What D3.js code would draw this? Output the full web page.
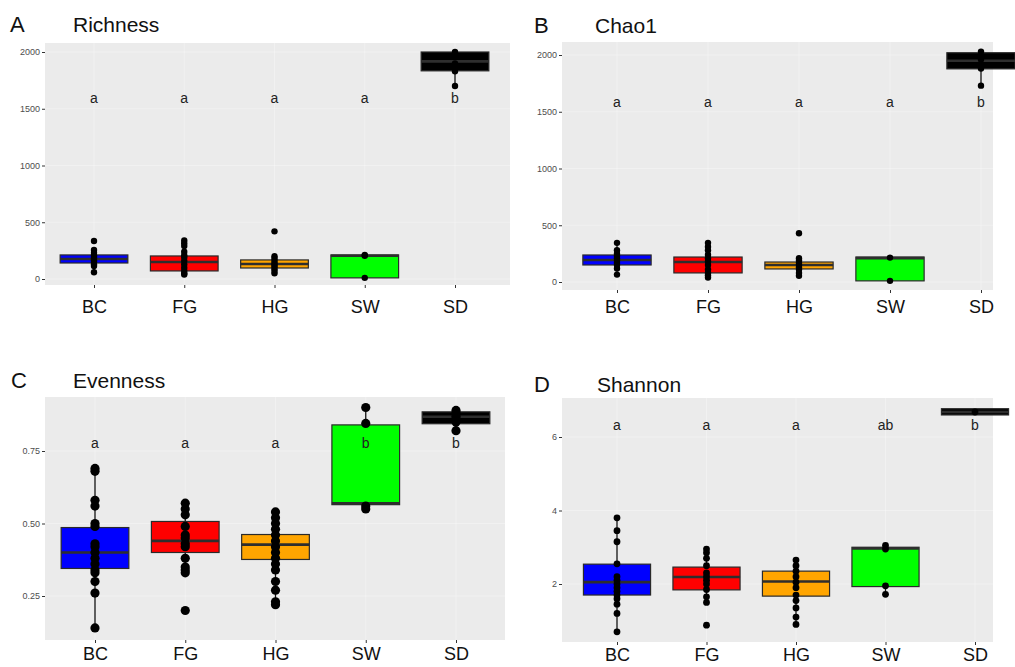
<!DOCTYPE html>
<html>
<head>
<meta charset="utf-8">
<script src="https://cdn.jsdelivr.net/npm/d3@7"></script>
<style>
  body { margin: 0; background: #fff; }
  svg { display: block; font-family: "Liberation Sans", Arial, sans-serif; }
</style>
</head>
<body>
<svg id="chart" width="1015" height="667"></svg>
<script>
// groups and colours
var cats = ["BC", "FG", "HG", "SW", "SD"]
var fills = ["#0000ff", "#ff0000", "#ffa500", "#00ff00", "#000000"]

// box stats per group: [lower whisker, q1, median, q3, upper whisker]
var richStats = [[60, 141, 176, 212, 260], [40, 71, 150, 203, 340], [50, 97, 132, 168, 200], [10, 10, 205, 212, 212], [1700, 1834, 1917, 2000, 2000]]
var richPoints = [
  [335, 255, 230, 210, 195, 180, 165, 150, 130, 115, 60],
  [340, 315, 290, 240, 210, 190, 160, 130, 100, 70, 50, 40],
  [420, 200, 180, 160, 140, 125, 110, 90, 70, 50],
  [212, 205, 10],
  [2000, 1980, 1900, 1830, 1700]
]
var richLetters = ["a", "a", "a", "a", "b"]

var chaoStats = [[65, 150, 194, 238, 345], [40, 80, 176, 220, 345], [50, 115, 150, 176, 210], [10, 10, 210, 220, 220], [1730, 1878, 1950, 2020, 2030]]
var chaoPoints = [
  [345, 280, 250, 230, 210, 190, 170, 150, 120, 65],
  [345, 310, 280, 240, 210, 180, 150, 110, 80, 60, 40],
  [430, 210, 190, 170, 150, 130, 110, 80, 55],
  [215, 10],
  [2030, 1960, 1880, 1730]
]
var chaoLetters = ["a", "a", "a", "a", "b"]

var evenStats = [[0.139, 0.345, 0.40, 0.486, 0.693], [0.33, 0.40, 0.44, 0.507, 0.57], [0.22, 0.376, 0.427, 0.462, 0.54], [0.55, 0.565, 0.57, 0.84, 0.90], [0.82, 0.844, 0.868, 0.885, 0.89]]
var evenPoints = [
  [0.69, 0.68, 0.58, 0.56, 0.50, 0.49, 0.43, 0.42, 0.40, 0.38, 0.36, 0.34, 0.33, 0.30, 0.26, 0.14],
  [0.57, 0.55, 0.53, 0.49, 0.46, 0.45, 0.43, 0.42, 0.38, 0.35, 0.34, 0.33, 0.20],
  [0.54, 0.52, 0.50, 0.48, 0.46, 0.44, 0.42, 0.40, 0.38, 0.36, 0.34, 0.30, 0.27, 0.23, 0.22],
  [0.90, 0.845, 0.56, 0.55],
  [0.89, 0.88, 0.87, 0.86, 0.85, 0.82]
]
var evenLetters = ["a", "a", "a", "b", "b"]

var shanStats = [[0.69, 1.70, 2.05, 2.54, 3.80], [1.45, 1.84, 2.19, 2.46, 2.95], [0.88, 1.67, 2.07, 2.35, 2.66], [1.72, 1.93, 2.97, 3.0, 3.05], [6.68, 6.60, 6.68, 6.77, 6.68]]
var shanPoints = [
  [3.80, 3.45, 3.15, 2.55, 2.2, 2.1, 2.0, 1.9, 1.8, 1.7, 1.6, 1.45, 1.2, 0.7],
  [2.95, 2.85, 2.7, 2.5, 2.3, 2.2, 2.1, 2.0, 1.85, 1.65, 1.5, 0.88],
  [2.65, 2.5, 2.35, 2.2, 2.05, 1.9, 1.7, 1.55, 1.35, 1.1, 0.9],
  [3.05, 2.95, 1.95, 1.72],
  [6.68]
]
var shanLetters = ["a", "a", "a", "ab", "b"]

var richTicks = [0, 500, 1000, 1500, 2000]
var evenTicks = [0.25, 0.50, 0.75]
var shanTicks = [2, 4, 6]

// panel layout
var panels = [
  {tag: "A", title: "Richness", stats: richStats, pts: richPoints, letters: richLetters, letterVal: 1550,
   ticks: richTicks, fmt: d3.format("d"), dom: [0, 2000], yr: [279, 52],
   left: 45, right: 510, top: 43, bottom: 285, xr: [94, 455], tagX: 10, titleX: 73, titleY: 32, labY: 313, r: 3.2},
  {tag: "B", title: "Chao1", stats: chaoStats, pts: chaoPoints, letters: chaoLetters, letterVal: 1540,
   ticks: richTicks, fmt: d3.format("d"), dom: [0, 2000], yr: [282, 55],
   left: 562, right: 993, top: 42, bottom: 290, xr: [617, 981], tagX: 534, titleX: 595, titleY: 33, labY: 313, r: 3.2},
  {tag: "C", title: "Evenness", stats: evenStats, pts: evenPoints, letters: evenLetters, letterVal: 0.762,
   ticks: evenTicks, fmt: d3.format(".2f"), dom: [0.25, 0.75], yr: [596, 451],
   left: 45, right: 505, top: 397, bottom: 640, xr: [95, 456], tagX: 11, titleX: 73, titleY: 388, labY: 660, r: 4.6},
  {tag: "D", title: "Shannon", stats: shanStats, pts: shanPoints, letters: shanLetters, letterVal: 6.2,
   ticks: shanTicks, fmt: d3.format("d"), dom: [2, 6], yr: [584, 437],
   left: 562, right: 993, top: 398, bottom: 642, xr: [617, 975], tagX: 534, titleX: 597, titleY: 392, labY: 661, r: 3.4}
]

var svg = d3.select("#chart")

var drawPanel = function (p)
{
  var g = svg.append("g")
  var x = d3.scalePoint().domain(cats).range(p.xr)
  var y = d3.scaleLinear().domain(p.dom).range(p.yr)
  var step = x.step()
  var bw = step * 0.75

  g.append("rect")
    .attr("x", p.left).attr("y", p.top)
    .attr("width", p.right - p.left).attr("height", p.bottom - p.top)
    .attr("fill", "#ebebeb")

  // faint grid
  g.selectAll(".hg").data(p.ticks).enter().append("line")
    .attr("x1", p.left).attr("x2", p.right)
    .attr("y1", function (d) { return y(d) }).attr("y2", function (d) { return y(d) })
    .attr("stroke", "#fff").attr("stroke-opacity", 0.3).attr("stroke-width", 1)
  g.selectAll(".vg").data(cats).enter().append("line")
    .attr("x1", function (d) { return x(d) }).attr("x2", function (d) { return x(d) })
    .attr("y1", p.top).attr("y2", p.bottom)
    .attr("stroke", "#fff").attr("stroke-opacity", 0.3).attr("stroke-width", 1)

  var grp = g.selectAll(".box").data(cats).enter().append("g")

  grp.append("line")
    .attr("x1", function (d) { return x(d) }).attr("x2", function (d) { return x(d) })
    .attr("y1", function (d, i) { return y(p.stats[i][0]) })
    .attr("y2", function (d, i) { return y(p.stats[i][4]) })
    .attr("stroke", "#111").attr("stroke-width", 1.3)

  grp.append("rect")
    .attr("x", function (d) { return x(d) - bw / 2 })
    .attr("width", bw)
    .attr("y", function (d, i) { return y(p.stats[i][3]) })
    .attr("height", function (d, i) { return Math.max(1, y(p.stats[i][1]) - y(p.stats[i][3])) })
    .attr("fill", function (d, i) { return fills[i] })
    .attr("stroke", "#2a2a2a").attr("stroke-width", 1.2)

  grp.append("line")
    .attr("x1", function (d) { return x(d) - bw / 2 }).attr("x2", function (d) { return x(d) + bw / 2 })
    .attr("y1", function (d, i) { return y(p.stats[i][2]) })
    .attr("y2", function (d, i) { return y(p.stats[i][2]) })
    .attr("stroke", "#2e2e2e").attr("stroke-width", 2.6)

  grp.each(function (d, i)
  {
    d3.select(this).selectAll("circle").data(p.pts[i]).enter().append("circle")
      .attr("cx", x(d))
      .attr("cy", function (v) { return y(v) })
      .attr("r", p.r)
      .attr("fill", "#000")
  })

  g.selectAll(".let").data(cats).enter().append("text")
    .attr("x", function (d) { return x(d) })
    .attr("y", y(p.letterVal))
    .attr("text-anchor", "middle")
    .attr("font-size", 14)
    .attr("fill", "#222")
    .text(function (d, i) { return p.letters[i] })

  var ya = g.append("g")
    .attr("transform", "translate(" + p.left + ",0)")
    .call(d3.axisLeft(y).tickValues(p.ticks).tickFormat(p.fmt).tickSize(3).tickPadding(2))
  ya.select(".domain").remove()
  ya.selectAll("line").attr("stroke", "#333")
  ya.selectAll("text").attr("font-size", 9).attr("fill", "#4d4d4d")
    .attr("font-family", "'Liberation Sans', Arial, sans-serif")

  var xa = g.append("g")
    .attr("transform", "translate(0," + p.bottom + ")")
    .call(d3.axisBottom(x).tickSize(3))
  xa.select(".domain").remove()
  xa.selectAll("line").attr("stroke", "#333")
  xa.selectAll("text").attr("font-size", 18).attr("fill", "#111")
    .attr("font-family", "'Liberation Sans', Arial, sans-serif")
    .attr("y", p.labY - p.bottom).attr("dy", 0)

  svg.append("text").attr("x", p.tagX).attr("y", p.titleY)
    .attr("font-size", 22).attr("fill", "#111").text(p.tag)
  svg.append("text").attr("x", p.titleX).attr("y", p.titleY)
    .attr("font-size", 21).attr("fill", "#111").text(p.title)
}

panels.forEach(drawPanel)
</script>
</body>
</html>
